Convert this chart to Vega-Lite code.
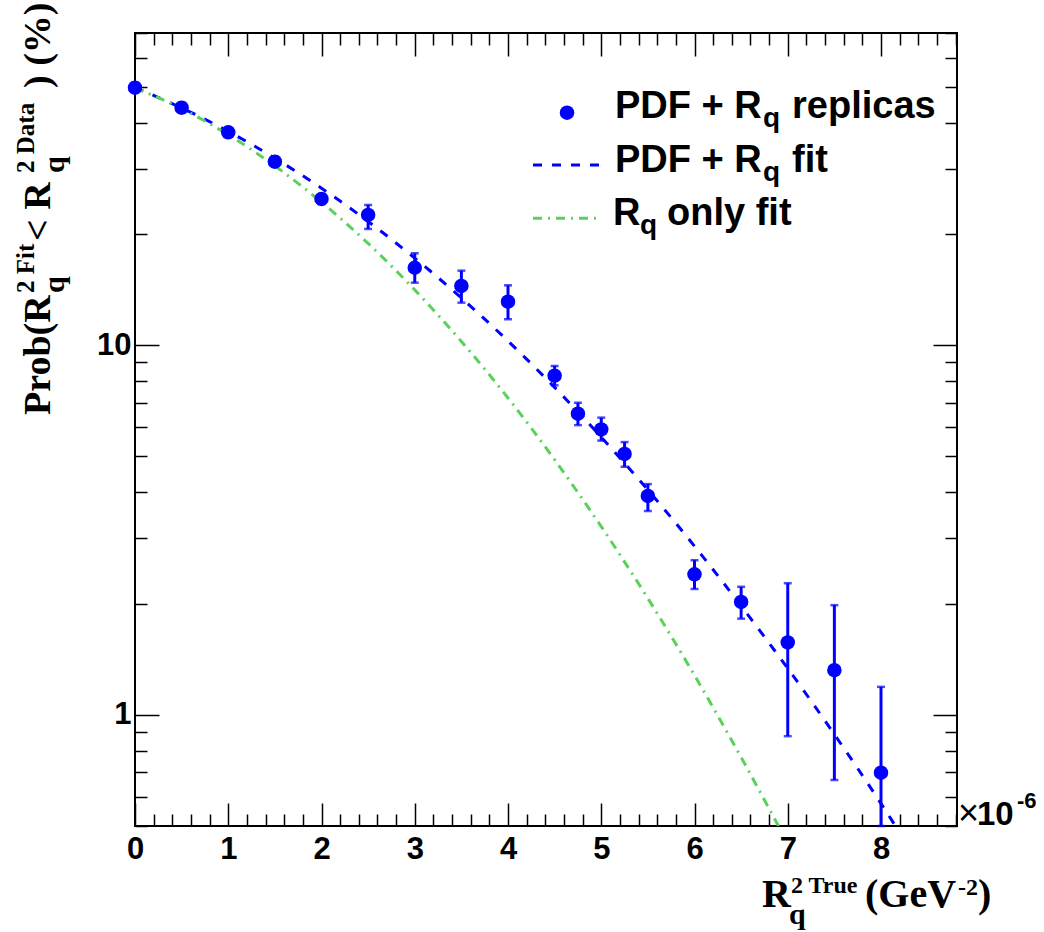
{
  "$schema": "https://vega.github.io/schema/vega-lite/v6.json",
  "width": 822,
  "height": 793,
  "autosize": {"type": "none"},
  "padding": {"left": 135, "top": 33, "right": 87, "bottom": 106},
  "background": "white",
  "data": {"values": [{}]},
  "config": {
    "view": {"stroke": "black", "strokeWidth": 2},
    "axis": {"grid": false, "domain": false, "tickColor": "black", "tickWidth": 1.5, "labelFont": "Liberation Sans", "labelFontWeight": "bold", "labelFontSize": 31, "labelColor": "black", "title": null, "labelOverlap": false, "labelFlush": false, "labelBound": false}
  },
  "datasets": {
    "replicas": [
      {"x": 0, "y": 49.8, "lo": 48.3, "hi": 51.3},
      {"x": 0.5, "y": 43.96, "lo": 42.6, "hi": 45.3},
      {"x": 1, "y": 37.71, "lo": 36.6, "hi": 38.8},
      {"x": 1.5, "y": 31.39, "lo": 30.4, "hi": 32.4},
      {"x": 2, "y": 24.88, "lo": 24.1, "hi": 25.6},
      {"x": 2.5, "y": 22.52, "lo": 20.64, "hi": 23.97},
      {"x": 3, "y": 16.21, "lo": 14.77, "hi": 17.74},
      {"x": 3.5, "y": 14.47, "lo": 13.04, "hi": 15.92},
      {"x": 4, "y": 13.12, "lo": 11.76, "hi": 14.53},
      {"x": 4.5, "y": 8.27, "lo": 7.79, "hi": 8.79},
      {"x": 4.75, "y": 6.53, "lo": 6.08, "hi": 6.99},
      {"x": 5, "y": 5.92, "lo": 5.52, "hi": 6.37},
      {"x": 5.25, "y": 5.08, "lo": 4.69, "hi": 5.47},
      {"x": 5.5, "y": 3.91, "lo": 3.56, "hi": 4.21},
      {"x": 6, "y": 2.4, "lo": 2.19, "hi": 2.62},
      {"x": 6.5, "y": 2.02, "lo": 1.82, "hi": 2.22},
      {"x": 7, "y": 1.57, "lo": 0.875, "hi": 2.27},
      {"x": 7.5, "y": 1.32, "lo": 0.666, "hi": 1.98},
      {"x": 8, "y": 0.697, "lo": 0.5, "hi": 1.19}
    ],
    "pdf_fit": [
      {"x": 0, "y": 49.8}, {"x": 0.5, "y": 43.89}, {"x": 1, "y": 37.91}, {"x": 1.5, "y": 32.08},
      {"x": 2, "y": 26.61}, {"x": 2.5, "y": 21.63}, {"x": 3, "y": 17.21}, {"x": 3.5, "y": 13.43},
      {"x": 4, "y": 10.27}, {"x": 4.5, "y": 7.69}, {"x": 5, "y": 5.64}, {"x": 5.5, "y": 4.06},
      {"x": 6, "y": 2.86}, {"x": 6.5, "y": 1.97}, {"x": 7, "y": 1.335}, {"x": 7.5, "y": 0.885},
      {"x": 8, "y": 0.575}, {"x": 8.155, "y": 0.5}
    ],
    "rq_fit": [
      {"x": 0, "y": 49.8}, {"x": 0.5, "y": 43.68}, {"x": 1, "y": 37.13}, {"x": 1.5, "y": 30.57},
      {"x": 2, "y": 24.39}, {"x": 2.5, "y": 18.86}, {"x": 3, "y": 14.12}, {"x": 3.5, "y": 10.24},
      {"x": 4, "y": 7.2}, {"x": 4.5, "y": 4.9}, {"x": 5, "y": 3.23}, {"x": 5.5, "y": 2.065},
      {"x": 6, "y": 1.279}, {"x": 6.5, "y": 0.767}, {"x": 6.9, "y": 0.5}
    ]
  },
  "resolve": {"axis": {"x": "independent", "y": "independent"}},
  "layer": [
    {
      "data": {"name": "replicas"},
      "mark": {"type": "rule", "color": "#0000ff", "strokeWidth": 3},
      "encoding": {
        "x": {"field": "x", "type": "quantitative", "scale": {"domain": [0, 8.815], "nice": false, "zero": false},
          "axis": {"orient": "bottom", "values": [0,0.2,0.4,0.6,0.8,1,1.2,1.4,1.6,1.8,2,2.2,2.4,2.6,2.8,3,3.2,3.4,3.6,3.8,4,4.2,4.4,4.6,4.8,5,5.2,5.4,5.6,5.8,6,6.2,6.4,6.6,6.8,7,7.2,7.4,7.6,7.8,8,8.2,8.4,8.6,8.8],
            "tickSize": {"condition": {"test": "datum.value % 1 === 0", "value": -23}, "value": -12},
            "labelExpr": "datum.value % 1 === 0 ? format(datum.value, 'd') : ''", "labelPadding": 31}},
        "y": {"field": "lo", "type": "quantitative", "scale": {"type": "log", "domain": [0.5, 70], "nice": false},
          "axis": {"orient": "left", "values": [0.5,0.6,0.7,0.8,0.9,1,2,3,4,5,6,7,8,9,10,20,30,40,50,60,70],
            "tickSize": {"condition": {"test": "datum.value === 1 || datum.value === 10", "value": -24}, "value": -12},
            "labelExpr": "datum.value === 1 || datum.value === 10 ? format(datum.value, 'd') : ''", "labelPadding": 28}},
        "y2": {"field": "hi"}
      }
    },
    {
      "data": {"name": "replicas"},
      "mark": {"type": "tick", "orient": "horizontal", "size": 8, "thickness": 2.5, "color": "#0000ff"},
      "encoding": {
        "x": {"field": "x", "type": "quantitative", "axis": null},
        "y": {"field": "hi", "type": "quantitative", "axis": null}
      }
    },
    {
      "data": {"name": "replicas"},
      "mark": {"type": "tick", "orient": "horizontal", "size": 8, "thickness": 2.5, "color": "#0000ff"},
      "encoding": {
        "x": {"field": "x", "type": "quantitative", "axis": null},
        "y": {"field": "lo", "type": "quantitative", "axis": null}
      }
    },
    {
      "data": {"name": "pdf_fit"},
      "mark": {"type": "line", "color": "#0000ff", "strokeWidth": 3, "strokeDash": [9, 10], "clip": true, "interpolate": "monotone"},
      "encoding": {
        "x": {"field": "x", "type": "quantitative", "axis": null},
        "y": {"field": "y", "type": "quantitative", "axis": null}
      }
    },
    {
      "data": {"name": "rq_fit"},
      "mark": {"type": "line", "color": "#5ad25a", "strokeWidth": 3, "strokeDash": [9, 6, 2, 6], "clip": true, "interpolate": "monotone"},
      "encoding": {
        "x": {"field": "x", "type": "quantitative", "axis": null},
        "y": {"field": "y", "type": "quantitative", "axis": null}
      }
    },
    {
      "data": {"name": "replicas"},
      "mark": {"type": "circle", "size": 210, "color": "#0000ff", "opacity": 1},
      "encoding": {
        "x": {"field": "x", "type": "quantitative",
          "axis": {"orient": "top", "values": [0,0.2,0.4,0.6,0.8,1,1.2,1.4,1.6,1.8,2,2.2,2.4,2.6,2.8,3,3.2,3.4,3.6,3.8,4,4.2,4.4,4.6,4.8,5,5.2,5.4,5.6,5.8,6,6.2,6.4,6.6,6.8,7,7.2,7.4,7.6,7.8,8,8.2,8.4,8.6,8.8],
            "tickSize": {"condition": {"test": "datum.value % 1 === 0", "value": -23}, "value": -12}, "labels": false}},
        "y": {"field": "y", "type": "quantitative",
          "axis": {"orient": "right", "values": [0.5,0.6,0.7,0.8,0.9,1,2,3,4,5,6,7,8,9,10,20,30,40,50,60,70],
            "tickSize": {"condition": {"test": "datum.value === 1 || datum.value === 10", "value": -24}, "value": -12}, "labels": false}}
      }
    },
    {
      "mark": {"type": "circle", "size": 210, "color": "#0000ff", "opacity": 1},
      "encoding": {"x": {"datum": 4.633, "axis": null}, "y": {"datum": 42.6, "axis": null}}
    },
    {
      "mark": {"type": "rule", "color": "#0000ff", "strokeWidth": 3, "strokeDash": [9, 10]},
      "encoding": {"x": {"datum": 4.268, "axis": null}, "x2": {"datum": 4.987}, "y": {"datum": 30.75, "axis": null}}
    },
    {
      "mark": {"type": "rule", "color": "#5ad25a", "strokeWidth": 3, "strokeDash": [9, 6, 2, 6]},
      "encoding": {"x": {"datum": 4.268, "axis": null}, "x2": {"datum": 4.954}, "y": {"datum": 22.06, "axis": null}}
    },
    {"mark": {"type": "text", "text": "PDF + R", "font": "Liberation Sans", "fontWeight": "bold", "fontSize": 38, "align": "left", "baseline": "alphabetic", "color": "black"},
     "encoding": {"x": {"datum": 5.147, "axis": null}, "y": {"datum": 41.22, "axis": null}}},
    {"mark": {"type": "text", "text": "q", "font": "Liberation Sans", "fontWeight": "bold", "fontSize": 28, "align": "left", "baseline": "alphabetic", "color": "black"},
     "encoding": {"x": {"datum": 6.735, "axis": null}, "y": {"datum": 38.97, "axis": null}}},
    {"mark": {"type": "text", "text": "replicas", "font": "Liberation Sans", "fontWeight": "bold", "fontSize": 38, "align": "left", "baseline": "alphabetic", "color": "black"},
     "encoding": {"x": {"datum": 7.046, "axis": null}, "y": {"datum": 41.22, "axis": null}}},
    {"mark": {"type": "text", "text": "PDF + R", "font": "Liberation Sans", "fontWeight": "bold", "fontSize": 38, "align": "left", "baseline": "alphabetic", "color": "black"},
     "encoding": {"x": {"datum": 5.147, "axis": null}, "y": {"datum": 29.44, "axis": null}}},
    {"mark": {"type": "text", "text": "q", "font": "Liberation Sans", "fontWeight": "bold", "fontSize": 28, "align": "left", "baseline": "alphabetic", "color": "black"},
     "encoding": {"x": {"datum": 6.735, "axis": null}, "y": {"datum": 27.83, "axis": null}}},
    {"mark": {"type": "text", "text": "fit", "font": "Liberation Sans", "fontWeight": "bold", "fontSize": 38, "align": "left", "baseline": "alphabetic", "color": "black"},
     "encoding": {"x": {"datum": 7.046, "axis": null}, "y": {"datum": 29.44, "axis": null}}},
    {"mark": {"type": "text", "text": "R", "font": "Liberation Sans", "fontWeight": "bold", "fontSize": 38, "align": "left", "baseline": "alphabetic", "color": "black"},
     "encoding": {"x": {"datum": 5.126, "axis": null}, "y": {"datum": 21.16, "axis": null}}},
    {"mark": {"type": "text", "text": "q", "font": "Liberation Sans", "fontWeight": "bold", "fontSize": 28, "align": "left", "baseline": "alphabetic", "color": "black"},
     "encoding": {"x": {"datum": 5.416, "axis": null}, "y": {"datum": 20.01, "axis": null}}},
    {"mark": {"type": "text", "text": "only fit", "font": "Liberation Sans", "fontWeight": "bold", "fontSize": 38, "align": "left", "baseline": "alphabetic", "color": "black"},
     "encoding": {"x": {"datum": 5.705, "axis": null}, "y": {"datum": 21.16, "axis": null}}},
    {"mark": {"type": "text", "text": "R", "font": "Liberation Serif", "fontWeight": "bold", "fontSize": 40, "align": "left", "baseline": "alphabetic", "color": "black"},
     "encoding": {"x": {"datum": 6.724, "axis": null}, "y": {"datum": 0.3018, "axis": null}}},
    {"mark": {"type": "text", "text": "q", "font": "Liberation Serif", "fontWeight": "bold", "fontSize": 30, "align": "left", "baseline": "alphabetic", "color": "black"},
     "encoding": {"x": {"datum": 7.013, "axis": null}, "y": {"datum": 0.2716, "axis": null}}},
    {"mark": {"type": "text", "text": "2 True", "font": "Liberation Serif", "fontWeight": "bold", "fontSize": 24, "align": "left", "baseline": "alphabetic", "color": "black"},
     "encoding": {"x": {"datum": 7.035, "axis": null}, "y": {"datum": 0.3294, "axis": null}}},
    {"mark": {"type": "text", "text": "(GeV", "font": "Liberation Serif", "fontWeight": "bold", "fontSize": 40, "align": "left", "baseline": "alphabetic", "color": "black"},
     "encoding": {"x": {"datum": 7.828, "axis": null}, "y": {"datum": 0.3018, "axis": null}}},
    {"mark": {"type": "text", "text": "-2", "font": "Liberation Serif", "fontWeight": "bold", "fontSize": 24, "align": "left", "baseline": "alphabetic", "color": "black"},
     "encoding": {"x": {"datum": 8.826, "axis": null}, "y": {"datum": 0.3253, "axis": null}}},
    {"mark": {"type": "text", "text": ")", "font": "Liberation Serif", "fontWeight": "bold", "fontSize": 40, "align": "left", "baseline": "alphabetic", "color": "black"},
     "encoding": {"x": {"datum": 9.04, "axis": null}, "y": {"datum": 0.3018, "axis": null}}},
    {"mark": {"type": "text", "text": "Prob(R", "angle": 270, "font": "Liberation Serif", "fontWeight": "bold", "fontSize": 38, "align": "left", "baseline": "alphabetic", "color": "black"},
     "encoding": {"x": {"datum": -0.9115, "axis": null}, "y": {"datum": 6.475, "axis": null}}},
    {"mark": {"type": "text", "text": "q", "angle": 270, "font": "Liberation Serif", "fontWeight": "bold", "fontSize": 30, "align": "left", "baseline": "alphabetic", "color": "black"},
     "encoding": {"x": {"datum": -0.7614, "axis": null}, "y": {"datum": 13.85, "axis": null}}},
    {"mark": {"type": "text", "text": "2 Fit", "angle": 270, "font": "Liberation Serif", "fontWeight": "bold", "fontSize": 25, "align": "left", "baseline": "alphabetic", "color": "black"},
     "encoding": {"x": {"datum": -1.083, "axis": null}, "y": {"datum": 13.85, "axis": null}}},
    {"mark": {"type": "text", "text": " < R", "angle": 270, "font": "Liberation Serif", "fontWeight": "bold", "fontSize": 38, "align": "left", "baseline": "alphabetic", "color": "black"},
     "encoding": {"x": {"datum": -0.9115, "axis": null}, "y": {"datum": 19.155, "axis": null}}},
    {"mark": {"type": "text", "text": "q", "angle": 270, "font": "Liberation Serif", "fontWeight": "bold", "fontSize": 30, "align": "left", "baseline": "alphabetic", "color": "black"},
     "encoding": {"x": {"datum": -0.7614, "axis": null}, "y": {"datum": 29.26, "axis": null}}},
    {"mark": {"type": "text", "text": "2 Data", "angle": 270, "font": "Liberation Serif", "fontWeight": "bold", "fontSize": 25, "align": "left", "baseline": "alphabetic", "color": "black"},
     "encoding": {"x": {"datum": -1.083, "axis": null}, "y": {"datum": 29.26, "axis": null}}},
    {"mark": {"type": "text", "text": ") (%)", "angle": 270, "font": "Liberation Serif", "fontWeight": "bold", "fontSize": 38, "align": "left", "baseline": "alphabetic", "color": "black"},
     "encoding": {"x": {"datum": -0.9115, "axis": null}, "y": {"datum": 49.68, "axis": null}}},
    {"mark": {"type": "text", "text": "×", "font": "Liberation Sans", "fontSize": 36, "align": "left", "baseline": "alphabetic", "color": "black"},
     "encoding": {"x": {"datum": 8.826, "axis": null}, "y": {"datum": 0.503, "axis": null}}},
    {"mark": {"type": "text", "text": "10", "font": "Liberation Sans", "fontWeight": "bold", "fontSize": 33, "align": "left", "baseline": "alphabetic", "color": "black"},
     "encoding": {"x": {"datum": 9.029, "axis": null}, "y": {"datum": 0.503, "axis": null}}},
    {"mark": {"type": "text", "text": "-6", "font": "Liberation Sans", "fontWeight": "bold", "fontSize": 22, "align": "left", "baseline": "alphabetic", "color": "black"},
     "encoding": {"x": {"datum": 9.458, "axis": null}, "y": {"datum": 0.5595, "axis": null}}}
  ]
}
